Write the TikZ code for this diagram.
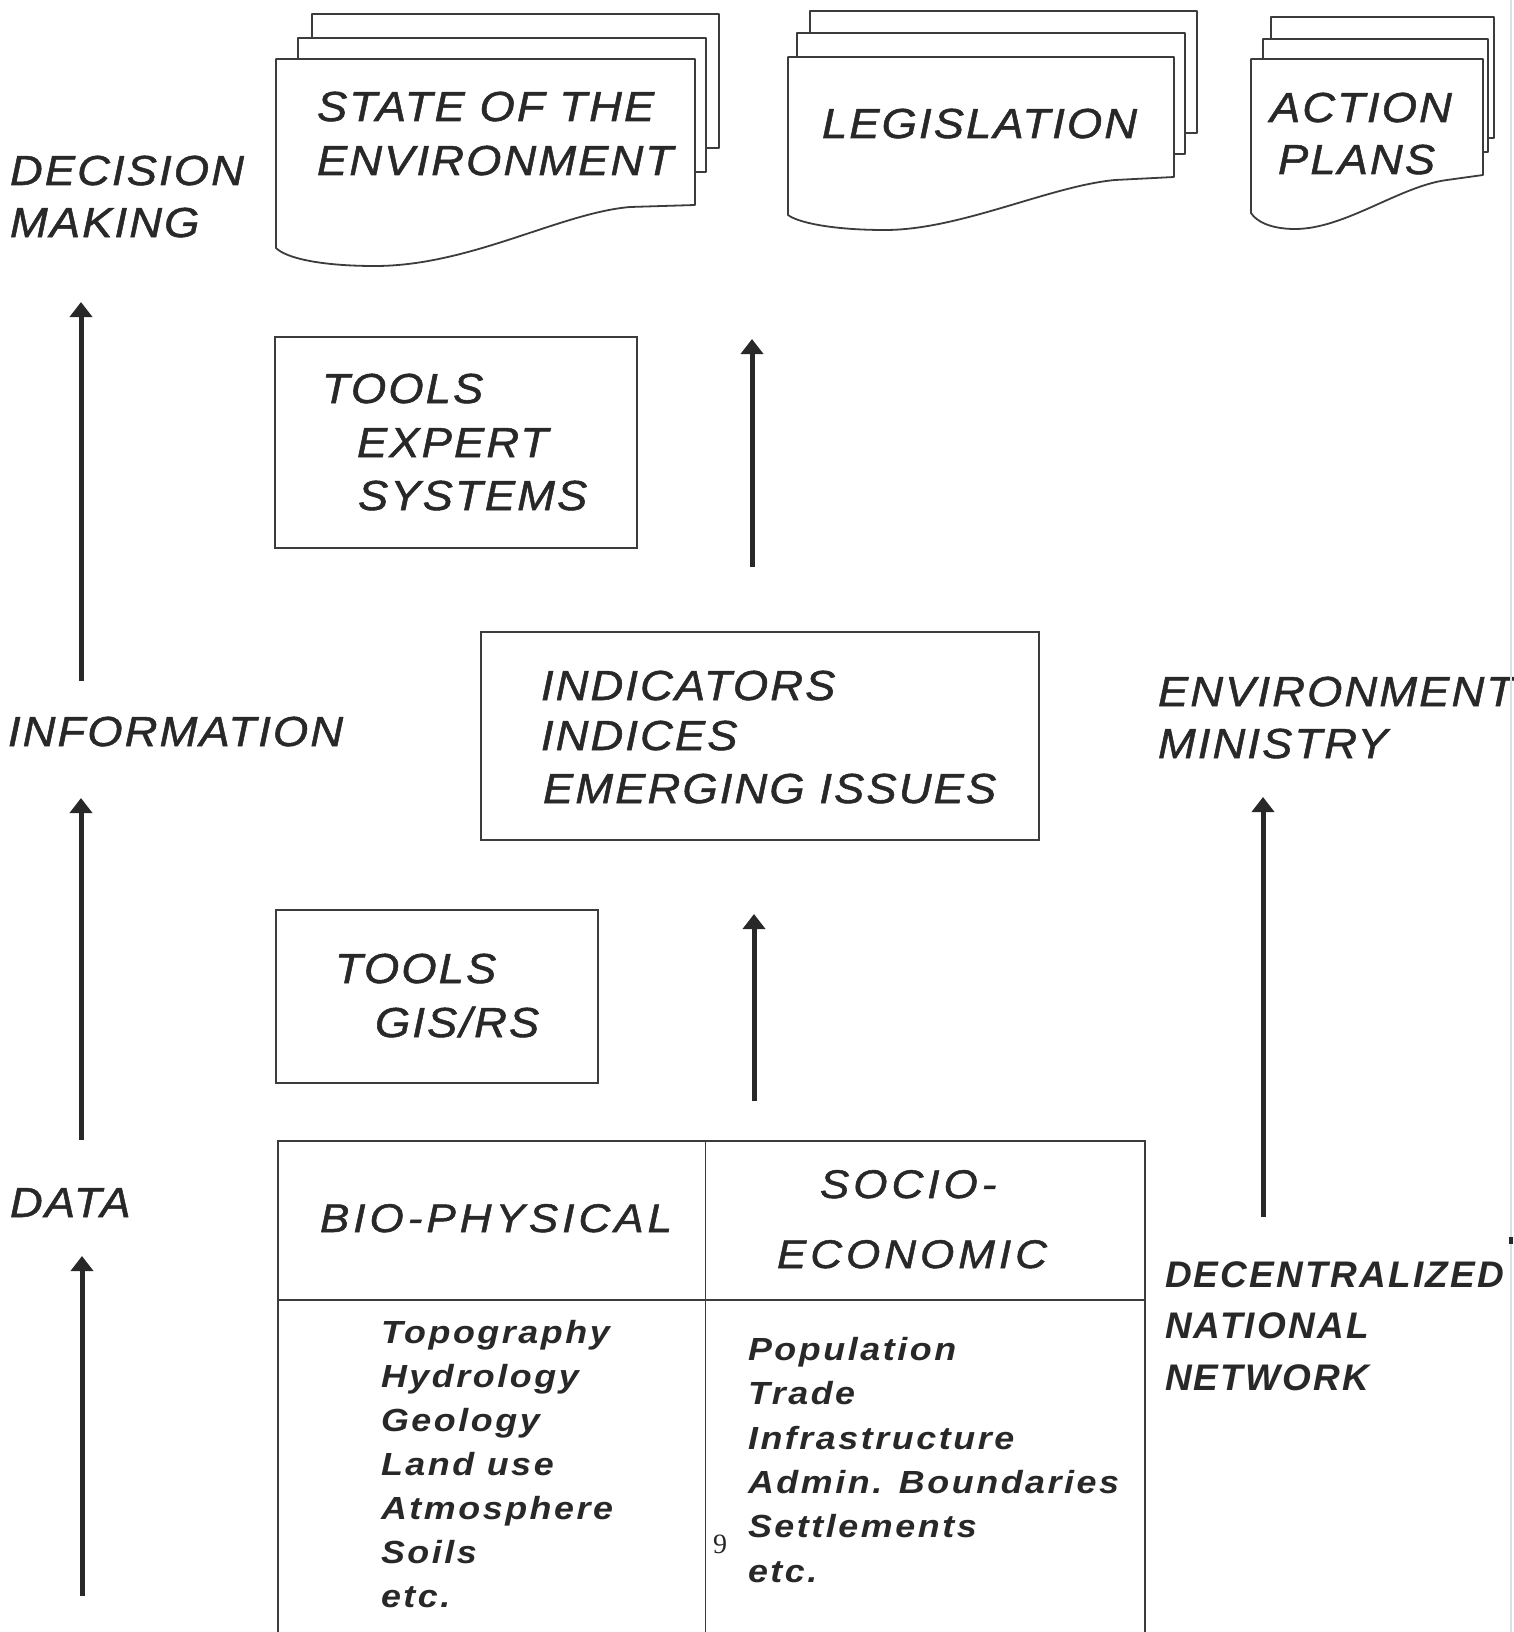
\documentclass[tikz,border=0pt]{standalone}
\usepackage{fontspec}
\setmainfont{Liberation Sans}
\newfontfamily\labfont{Liberation Sans}[LetterSpace=5,FakeStretch=1.08,FakeBold=1.2]
\newfontfamily\headfont{Liberation Sans}[LetterSpace=10,FakeStretch=1.1,FakeBold=1.2]
\newfontfamily\itemfont{Liberation Sans}[LetterSpace=8,FakeStretch=1.12]
\newfontfamily\netfont{Liberation Sans}[LetterSpace=6]
\newfontfamily\ninefont{Liberation Serif}
\usetikzlibrary{arrows.meta}
\definecolor{ink}{RGB}{40,40,40}
\definecolor{rulec}{RGB}{60,60,60}
\tikzset{
 lab/.style={anchor=base west, inner sep=0pt, outer sep=0pt, text=ink, font=\labfont\itshape\fontsize{42}{50}\selectfont},
 head/.style={lab, font=\headfont\itshape\fontsize{40}{48}\selectfont},
 item/.style={lab, font=\itemfont\itshape\bfseries\fontsize{32}{40}\selectfont},
 net/.style={lab, font=\netfont\itshape\bfseries\fontsize{37}{44}\selectfont},
 box/.style={draw=rulec, line width=1.8pt, anchor=north west, inner sep=0pt, outer sep=0pt},
 sheet/.style={draw=rulec, line width=1.8pt, line join=round},
 uparrow/.style={draw=ink, line width=5pt, -{Triangle[width=22pt,length=15pt]}},
}
\begin{document}
\begin{tikzpicture}[x=1pt,y=-1pt]
\useasboundingbox (0,0) rectangle (1513,1632);
\fill[white] (0,0) rectangle (1513,1632);

% ---------- top documents ----------
% State of the environment
\draw[sheet] (312,38) -- (312,14) -- (719,14) -- (719,148) -- (706,148);
\draw[sheet] (298,59) -- (298,38) -- (706,38) -- (706,172) -- (695,172);
\draw[sheet] (276,59) -- (695,59) -- (695,205) -- (630,207)
  .. controls (560,213) and (470,266) .. (375,266)
  .. controls (320,266) and (286,258) .. (276,248) -- cycle;
\node[lab] (soe1) at (317,121) {STATE OF THE};
\node[lab] (soe2) at (317,175) {ENVIRONMENT};

% Legislation
\draw[sheet] (810,33) -- (810,11) -- (1197,11) -- (1197,133) -- (1185,133);
\draw[sheet] (797,57) -- (797,33) -- (1185,33) -- (1185,154) -- (1174,154);
\draw[sheet] (788,57) -- (1174,57) -- (1174,177) -- (1115,180)
  .. controls (1050,186) and (960,230) .. (885,230)
  .. controls (830,230) and (797,222) .. (788,215) -- cycle;
\node[lab] (leg) at (822,138) {LEGISLATION};

% Action plans
\draw[sheet] (1271,39) -- (1271,17) -- (1494,17) -- (1494,138) -- (1488,138);
\draw[sheet] (1263,59) -- (1263,39) -- (1488,39) -- (1488,152) -- (1483,152);
\draw[sheet] (1251,59) -- (1483,59) -- (1483,175) -- (1447,180)
  .. controls (1400,186) and (1345,229) .. (1295,229)
  .. controls (1270,229) and (1256,221) .. (1251,213) -- cycle;
\node[lab] (act1) at (1270,122) {ACTION};
\node[lab] (act2) at (1278,174) {PLANS};

% ---------- left column ----------
\node[lab] (dm1) at (10,185) {DECISION};
\node[lab] (dm2) at (10,237) {MAKING};
\node[lab] (info) at (8,746) {INFORMATION};
\node[lab] (data) at (10,1217) {DATA};

\coordinate (a1s) at (81,681);  \coordinate (a1e) at (81,302);
\coordinate (a2s) at (81,1140); \coordinate (a2e) at (81,798);
\coordinate (a3s) at (82,1596); \coordinate (a3e) at (82,1256);
\draw[uparrow] (a1s) -- (a1e);
\draw[uparrow] (a2s) -- (a2e);
\draw[uparrow] (a3s) -- (a3e);

% ---------- middle boxes ----------
\node[box, minimum width=362pt, minimum height=211pt] (tools1) at (275,337) {};
\node[lab] (t1a) at (322,403) {TOOLS};
\node[lab] (t1b) at (357,457) {EXPERT};
\node[lab] (t1c) at (358,510) {SYSTEMS};

\coordinate (a4s) at (752,567); \coordinate (a4e) at (752,339);
\draw[uparrow] (a4s) -- (a4e);

\node[box, minimum width=558pt, minimum height=208pt] (ind) at (481,632) {};
\node[lab] (i1) at (541,700) {INDICATORS};
\node[lab] (i2) at (541,750) {INDICES};
\node[lab] (i3) at (543,803) {EMERGING ISSUES};

\node[box, minimum width=322pt, minimum height=173pt] (tools2) at (276,910) {};
\node[lab] (t2a) at (335,983) {TOOLS};
\node[lab] (t2b) at (375,1037) {GIS/RS};

\coordinate (a5s) at (754,1101); \coordinate (a5e) at (754,914);
\draw[uparrow] (a5s) -- (a5e);

% ---------- data table ----------
\node[box, minimum width=867pt, minimum height=520pt] (table) at (278,1141) {};
\coordinate (divtop) at (705.5,1141);
\coordinate (divbot) at (705.5,1661);
\coordinate (midl) at (278,1300);
\coordinate (midr) at (1145,1300);
\draw[draw=rulec, line width=1.8pt] (divtop) -- (divbot);
\draw[draw=rulec, line width=1.8pt] (midl) -- (midr);

\node[head] (bio) at (320,1232) {BIO-PHYSICAL};
\node[head] (soc1) at (820,1198) {SOCIO-};
\node[head] (soc2) at (777,1268) {ECONOMIC};

\node[item] (l1) at (381,1343) {Topography};
\node[item] (l2) at (381,1387) {Hydrology};
\node[item] (l3) at (381,1431) {Geology};
\node[item] (l4) at (381,1475) {Land use};
\node[item] (l5) at (381,1519) {Atmosphere};
\node[item] (l6) at (381,1563) {Soils};
\node[item] (l7) at (381,1607) {etc.};

\node[item] (r1) at (748,1360) {Population};
\node[item] (r2) at (748,1404.5) {Trade};
\node[item] (r3) at (748,1449) {Infrastructure};
\node[item] (r4) at (748,1493) {Admin. Boundaries};
\node[item] (r5) at (748,1537.5) {Settlements};
\node[item] (r6) at (748,1582) {etc.};

\node[anchor=base, inner sep=0pt, text=ink, font=\ninefont\fontsize{28}{30}\selectfont] (nine) at (720,1553) {9};

% ---------- right column ----------
\node[lab] (env1) at (1158,706) {ENVIRONMENT};
\node[lab] (env2) at (1158,758) {MINISTRY};

\coordinate (a6s) at (1263,1217); \coordinate (a6e) at (1263,797);
\draw[uparrow] (a6s) -- (a6e);

\node[net] (n1) at (1165,1287) {DECENTRALIZED};
\node[net] (n2) at (1165,1338) {NATIONAL};
\node[net] (n3) at (1165,1390) {NETWORK};

% scan edge marks
\draw[gray!25, line width=2pt] (1511,0) -- (1511,1632);
\fill[ink] (1509,1237) rectangle (1513,1244);
\end{tikzpicture}
\end{document}
